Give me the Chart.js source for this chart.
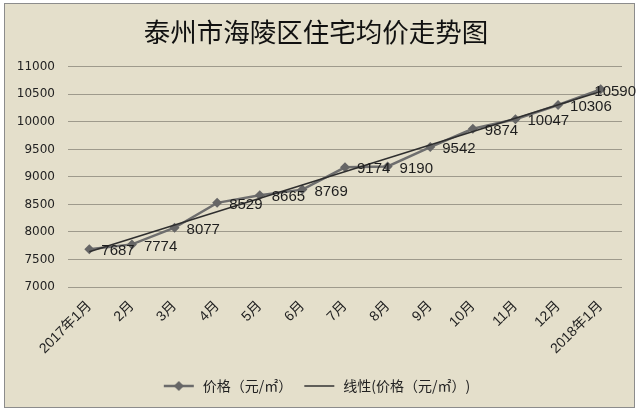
<!DOCTYPE html>
<html>
<head>
<meta charset="utf-8">
<script src="https://cdn.jsdelivr.net/npm/chart.js@4/dist/chart.umd.min.js"></script>
<style>
  html, body { margin: 0; padding: 0; background: #fff; }
  #wrap { width: 640px; height: 411px; position: relative; }
</style>
</head>
<body>
<div id="wrap"><canvas id="trend-chart"></canvas></div>
<script>
// data
var months = ["2017年1月", "2月", "3月", "4月", "5月", "6月", "7月", "8月", "9月", "10月", "11月", "12月", "2018年1月"];
var prices = [7687, 7774, 8077, 8529, 8665, 8769, 9174, 9190, 9542, 9874, 10047, 10306, 10590];
// trend line end points (gaps in between are spanned)
var trend = [7640, null, null, null, null, null, null, null, null, null, null, null, 10550];
var yTicks = [7000, 7500, 8000, 8500, 9000, 9500, 10000, 10500, 11000];

var cjk = '"Noto Sans CJK SC", "Noto Sans", sans-serif';

// legend swatches
function swatch(withDiamond) {
  var c = document.createElement("canvas");
  c.width = 34;
  c.height = 12;
  var g = c.getContext("2d");
  g.strokeStyle = withDiamond ? "#6b6b6b" : "#333";
  g.lineWidth = withDiamond ? 2.5 : 1.5;
  g.beginPath();
  g.moveTo(2, 6);
  g.lineTo(32, 6);
  g.stroke();
  if (withDiamond) {
    g.fillStyle = "#666";
    g.beginPath();
    g.moveTo(17, 1);
    g.lineTo(22, 6);
    g.lineTo(17, 11);
    g.lineTo(12, 6);
    g.closePath();
    g.fill();
  }
  return c;
}

// frame + beige background
var framePlugin = {
  id: "frame",
  beforeDraw: function (chart) {
    var ctx = chart.ctx;
    ctx.save();
    ctx.fillStyle = "#fff";
    ctx.fillRect(0, 0, chart.width, chart.height);
    ctx.fillStyle = "#e4dfcb";
    ctx.fillRect(4, 3, 631, 405);
    ctx.strokeStyle = "#8c8c8c";
    ctx.lineWidth = 1;
    ctx.strokeRect(4.5, 3.5, 630, 404);
    ctx.restore();
  },
};

// value labels to the right of each point
var labelPlugin = {
  id: "valueLabels",
  afterDatasetsDraw: function (chart) {
    var ctx = chart.ctx;
    var meta = chart.getDatasetMeta(0);
    ctx.save();
    ctx.font = '15px "Liberation Sans", Arial, sans-serif';
    ctx.fillStyle = "#1e1e1e";
    ctx.textBaseline = "middle";
    ctx.textAlign = "left";
    meta.data.forEach(function (pt, i) {
      var txt = String(prices[i]);
      var w = ctx.measureText(txt).width;
      var x = pt.x + 12;
      if (x + w > 636) x = 636 - w;
      ctx.fillText(txt, x, pt.y + 2);
    });
    ctx.restore();
  },
};

var ctx = document.getElementById("trend-chart");
var chart = new Chart(ctx, {
  type: "line",
  data: {
    labels: months,
    datasets: [
      {
        label: "价格（元/㎡）",
        data: prices,
        borderColor: "#6e6e6e",
        borderWidth: 2.5,
        pointStyle: "rectRot",
        pointRadius: 5,
        pointBackgroundColor: "#666",
        pointBorderColor: "#666",
        pointBorderWidth: 0,
        tension: 0,
        order: 1,
      },
      {
        label: "线性(价格（元/㎡）)",
        data: trend,
        spanGaps: true,
        borderColor: "#2e2e2e",
        borderWidth: 1.5,
        pointRadius: 0,
        tension: 0,
        order: 0,
      },
    ],
  },
  options: {
    responsive: true,
    maintainAspectRatio: false,
    animation: false,
    layout: { padding: { left: 10, right: 18, top: 10, bottom: 8 } },
    plugins: {
      title: {
        display: true,
        text: "泰州市海陵区住宅均价走势图",
        color: "#111",
        font: { family: cjk, size: 26.5, weight: "normal" },
        padding: { top: 6, bottom: 19 },
      },
      legend: {
        position: "bottom",
        labels: {
          usePointStyle: true,
          pointStyleWidth: 34,
          color: "#222",
          font: { family: cjk, size: 14 },
          padding: 10,
          generateLabels: function (chart) {
            return chart.data.datasets.map(function (ds, i) {
              return {
                text: ds.label,
                datasetIndex: i,
                pointStyle: swatch(i === 0),
                fillStyle: "transparent",
                strokeStyle: "transparent",
                lineWidth: 0,
                fontColor: "#222",
              };
            });
          },
        },
      },
      tooltip: { enabled: false },
    },
    scales: {
      x: {
        offset: true,
        grid: { display: false },
        border: { display: false },
        ticks: {
          color: "#222",
          minRotation: 45,
          maxRotation: 45,
          autoSkip: false,
          font: { family: '"Liberation Sans", ' + cjk, size: 14 },
        },
        afterFit: function (scale) {
          scale.height = 82;
        },
      },
      y: {
        min: 7000,
        max: 11000,
        afterBuildTicks: function (scale) {
          scale.ticks = yTicks.map(function (v) {
            return { value: v };
          });
        },
        grid: { color: "#9e9a8c", lineWidth: 1, drawTicks: false },
        border: { display: false },
        ticks: {
          color: "#222",
          padding: 13,
          font: { family: '"DejaVu Sans", sans-serif', size: 12 },
          callback: function (v) {
            return String(v);
          },
        },
        afterFit: function (scale) {
          scale.width = 58;
        },
      },
    },
  },
  plugins: [framePlugin, labelPlugin],
});
</script>
</body>
</html>
